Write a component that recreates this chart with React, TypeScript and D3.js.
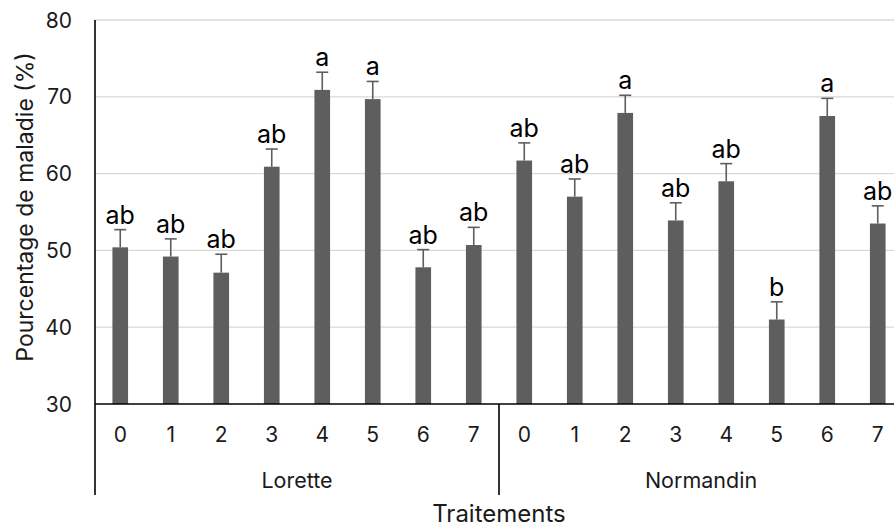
import React, { useEffect, useRef } from 'react';
import * as d3 from 'd3';

// data
const sites = ['Lorette', 'Normandin'];
const treatments = ['0', '1', '2', '3', '4', '5', '6', '7'];
const loretteValues = [50.4, 49.2, 47.1, 60.9, 70.9, 69.7, 47.8, 50.7];
const normandinValues = [61.7, 57.0, 67.9, 53.9, 59.0, 41.0, 67.5, 53.5];
const loretteErrors = [2.3, 2.3, 2.4, 2.3, 2.3, 2.3, 2.3, 2.3];
const normandinErrors = [2.3, 2.3, 2.3, 2.3, 2.3, 2.3, 2.3, 2.3];
const loretteLetters = ['ab', 'ab', 'ab', 'ab', 'a', 'a', 'ab', 'ab'];
const normandinLetters = ['ab', 'ab', 'a', 'ab', 'ab', 'b', 'a', 'ab'];
const yTicks = [30, 40, 50, 60, 70, 80];

const W = 894;
const H = 529;
const FONT = 'Inter, Roboto, sans-serif';

function Chart() {
  const ref = useRef<SVGSVGElement>(null);

  useEffect(() => {
    const rows = [
      ...treatments.map((t, i) => ({ site: sites[0], t, v: loretteValues[i], e: loretteErrors[i], l: loretteLetters[i] })),
      ...treatments.map((t, i) => ({ site: sites[1], t, v: normandinValues[i], e: normandinErrors[i], l: normandinLetters[i] })),
    ];
    const keys = rows.map((d) => d.site + '-' + d.t);

    const left = 95, right = 903, top = 20, bottom = 404;

    const x = d3.scaleBand().domain(keys).range([left, right]).paddingInner(0.69).paddingOuter(0.345);
    const y = d3.scaleLinear().domain([30, 80]).range([bottom, top]);

    const svg = d3.select(ref.current);
    svg.selectAll('*').remove();

    // gridlines
    svg.append('g')
      .selectAll('line')
      .data(yTicks.filter((t) => t > 30))
      .enter()
      .append('line')
      .attr('x1', left)
      .attr('x2', W)
      .attr('y1', (d) => y(d))
      .attr('y2', (d) => y(d))
      .attr('stroke', '#d9d9d9')
      .attr('stroke-width', 1.3);

    // y tick labels
    svg.append('g')
      .selectAll('text')
      .data(yTicks)
      .enter()
      .append('text')
      .attr('x', 72)
      .attr('y', (d) => y(d))
      .attr('dy', '0.36em')
      .attr('text-anchor', 'end')
      .attr('font-family', FONT)
      .attr('font-size', 21)
      .attr('fill', '#1a1a1a')
      .text((d) => d);

    // bars
    svg.append('g')
      .selectAll('rect')
      .data(rows)
      .enter()
      .append('rect')
      .attr('x', (d) => x(d.site + '-' + d.t)!)
      .attr('width', x.bandwidth())
      .attr('y', (d) => y(d.v))
      .attr('height', (d) => y(30) - y(d.v))
      .attr('fill', '#5e5e5e');

    // error bars
    const eb = svg.append('g').attr('stroke', '#5e5e5e').attr('stroke-width', 1.6);
    rows.forEach((d) => {
      const cx = x(d.site + '-' + d.t)! + x.bandwidth() / 2;
      eb.append('line').attr('x1', cx).attr('x2', cx).attr('y1', y(d.v)).attr('y2', y(d.v + d.e));
      eb.append('line').attr('x1', cx - 6).attr('x2', cx + 6).attr('y1', y(d.v + d.e)).attr('y2', y(d.v + d.e));
    });

    // letters
    svg.append('g')
      .selectAll('text')
      .data(rows)
      .enter()
      .append('text')
      .attr('x', (d) => x(d.site + '-' + d.t)! + x.bandwidth() / 2)
      .attr('y', (d) => y(d.v + d.e) - 6)
      .attr('text-anchor', 'middle')
      .attr('font-family', FONT)
      .attr('font-size', 25)
      .attr('fill', '#000')
      .text((d) => d.l);

    // axes lines
    svg.append('line')
      .attr('x1', left).attr('x2', W)
      .attr('y1', bottom).attr('y2', bottom)
      .attr('stroke', '#000').attr('stroke-width', 1.6);
    svg.append('line')
      .attr('x1', left).attr('x2', left)
      .attr('y1', top).attr('y2', 495)
      .attr('stroke', '#000').attr('stroke-width', 1.6);
    const mid = x(sites[1] + '-0')! - x.step() * x.paddingInner() / 2;
    svg.append('line')
      .attr('x1', mid).attr('x2', mid)
      .attr('y1', bottom).attr('y2', 495)
      .attr('stroke', '#000').attr('stroke-width', 1.6);

    // x tick labels
    svg.append('g')
      .selectAll('text')
      .data(rows)
      .enter()
      .append('text')
      .attr('x', (d) => x(d.site + '-' + d.t)! + x.bandwidth() / 2)
      .attr('y', 442)
      .attr('text-anchor', 'middle')
      .attr('font-family', FONT)
      .attr('font-size', 21)
      .attr('fill', '#1a1a1a')
      .text((d) => d.t);

    // group labels
    const groupX = [(left + mid) / 2, (mid + right) / 2];
    svg.append('g')
      .selectAll('text')
      .data(sites)
      .enter()
      .append('text')
      .attr('x', (d, i) => groupX[i])
      .attr('y', 488)
      .attr('text-anchor', 'middle')
      .attr('font-family', FONT)
      .attr('font-size', 21.5)
      .attr('fill', '#1a1a1a')
      .text((d) => d);

    // axis titles
    svg.append('text')
      .attr('x', mid)
      .attr('y', 522)
      .attr('text-anchor', 'middle')
      .attr('font-family', FONT)
      .attr('font-size', 24)
      .attr('fill', '#1a1a1a')
      .text('Traitements');

    svg.append('text')
      .attr('transform', `translate(33, 207) rotate(-90)`)
      .attr('text-anchor', 'middle')
      .attr('font-family', FONT)
      .attr('font-size', 23)
      .attr('fill', '#1a1a1a')
      .text('Pourcentage de maladie (%)');
  }, []);

  return <svg ref={ref} width={W} height={H} style={{ position: 'fixed', left: 0, top: 0, background: '#fff' }} />;
}

export default function App() {
  return <Chart />;
}
